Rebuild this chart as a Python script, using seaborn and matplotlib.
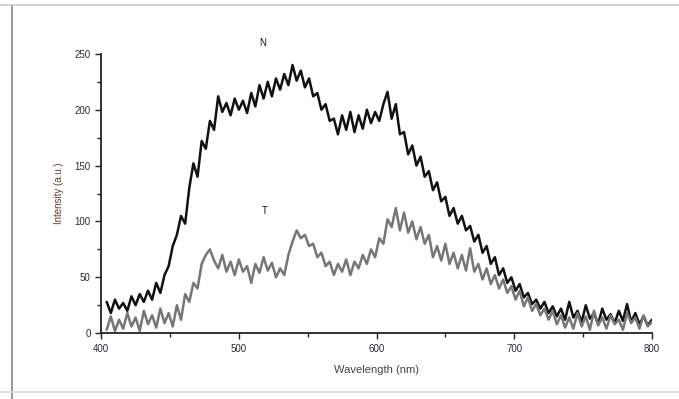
import numpy as np
import pandas as pd
import matplotlib
matplotlib.use('Agg')
from matplotlib import pyplot as plt
from matplotlib.lines import Line2D
from matplotlib.ticker import MultipleLocator
import seaborn as sns

# intensities, every 3 nm from 404 to 800 nm
n_vals = [28, 18, 30, 22, 27, 20, 33, 25, 35, 28, 38, 30, 45, 36, 52, 60, 78, 88, 105, 98,
          130, 152, 140, 172, 165, 190, 182, 212, 198, 206, 195, 210, 200, 208, 197, 215, 203, 222, 210, 225,
          212, 228, 218, 232, 222, 240, 226, 235, 220, 228, 212, 215, 200, 205, 190, 192, 178, 195, 182, 198,
          180, 195, 183, 200, 188, 198, 190, 205, 216, 192, 205, 178, 180, 160, 168, 150, 158, 140, 145, 128,
          135, 118, 122, 105, 112, 98, 105, 92, 96, 82, 88, 72, 78, 62, 68, 52, 58, 45, 50, 38,
          44, 32, 36, 26, 30, 22, 28, 18, 24, 15, 22, 12, 28, 14, 20, 10, 25, 13, 18, 8,
          22, 12, 17, 9, 20, 11, 26, 10, 18, 8, 15, 7, 12]
t_vals = [3, 15, 2, 12, 4, 18, 6, 14, 2, 20, 8, 16, 5, 22, 9, 18, 6, 25, 12, 35,
          28, 45, 40, 62, 70, 75, 65, 58, 70, 55, 64, 52, 66, 55, 60, 45, 62, 54, 68, 56,
          63, 50, 58, 52, 70, 82, 92, 85, 88, 78, 80, 68, 72, 60, 64, 52, 62, 55, 66, 52,
          64, 58, 70, 62, 75, 68, 85, 80, 102, 95, 112, 92, 108, 90, 100, 84, 95, 80, 88, 68,
          78, 65, 80, 62, 72, 58, 70, 56, 76, 55, 62, 48, 58, 44, 52, 40, 48, 36, 42, 30,
          38, 24, 32, 20, 26, 16, 22, 12, 20, 8, 16, 5, 14, 4, 18, 6, 15, 3, 20, 7,
          14, 4, 16, 8, 12, 3, 18, 9, 14, 4, 16, 6, 10]

n_wl = np.linspace(404, 800, len(n_vals))
t_wl = np.linspace(404, 800, len(t_vals))

df = pd.concat([
    pd.DataFrame({'wavelength': n_wl, 'intensity': n_vals, 'sample': 'N'}),
    pd.DataFrame({'wavelength': t_wl, 'intensity': t_vals, 'sample': 'T'}),
])

sns.set_theme(style='ticks')
plt.rcParams['font.family'] = ['Liberation Sans', 'DejaVu Sans']

fig = plt.figure(figsize=(6.79, 3.99), dpi=100)
ax = fig.add_axes([0.149, 0.165, 0.811, 0.700])

sns.lineplot(data=df, x='wavelength', y='intensity', hue='sample',
             palette={'N': '#111111', 'T': '#767676'}, linewidth=1.8,
             legend=False, ax=ax)

ax.set_xlim(400, 800)
ax.set_ylim(0, 250)
ax.xaxis.set_major_locator(MultipleLocator(100))
ax.xaxis.set_minor_locator(MultipleLocator(50))
ax.yaxis.set_major_locator(MultipleLocator(50))
ax.yaxis.set_minor_locator(MultipleLocator(25))
ax.tick_params(which='major', length=4, width=1, labelsize=7, colors='#222222', labelcolor='#2a2a3a')
ax.tick_params(which='minor', length=3, width=1, colors='#222222')
sns.despine(ax=ax)
for s in ['left', 'bottom']:
    ax.spines[s].set_color('#222222')
    ax.spines[s].set_linewidth(1.3)

ax.set_xlabel('Wavelength (nm)', fontsize=8, color='#444444', labelpad=8)
ax.set_ylabel('Intensity (a.u.)', fontsize=7, color='#6b3b2a', labelpad=8)

ax.text(517, 255, 'N', fontsize=7, ha='center', va='bottom', color='#111111')
ax.text(519, 105, 'T', fontsize=7, ha='center', va='bottom', color='#111111')

# scanned page frame
fig.add_artist(Line2D([12 / 679, 12 / 679], [0.0, 1 - 5 / 399], transform=fig.transFigure,
                      color='#9a9a9a', linewidth=1.5))
fig.add_artist(Line2D([0.0, 1.0], [1 - 5 / 399, 1 - 5 / 399], transform=fig.transFigure,
                      color='#c8c8c8', linewidth=1.2))
fig.add_artist(Line2D([0.0, 1.0], [1 - 392 / 399, 1 - 392 / 399], transform=fig.transFigure,
                      color='#d8d8d8', linewidth=1.2))

plt.savefig('out.png', dpi=100)
plt.close()
